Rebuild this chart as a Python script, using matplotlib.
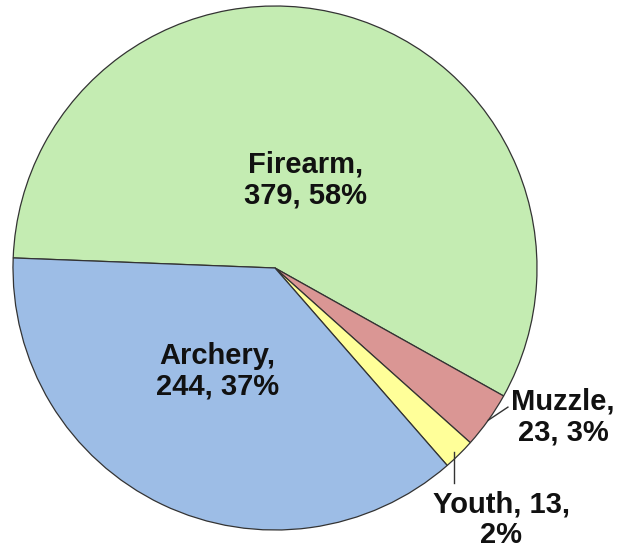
import numpy as np
import matplotlib.pyplot as plt

# data (clockwise from the left)
labels = ['Firearm', 'Muzzle', 'Youth', 'Archery']
counts = [379, 23, 13, 244]
colors = ['#C4ECB2', '#DA9694', '#FFFF99', '#9DBDE6']

total = sum(counts)
pcts = [round(100 * c / total) for c in counts]

fig = plt.figure(figsize=(6.31, 5.51), dpi=100)
ax = fig.add_axes([0, 0, 1, 1])

wedges, _ = ax.pie(counts, colors=colors, startangle=177.8, counterclock=False,
                   radius=1.0, wedgeprops=dict(edgecolor='#333333', linewidth=0.9))

# center at pixel (275, 268), radius 262 px
r = 262.0
ax.set_xlim(-275 / r, (631 - 275) / r)
ax.set_ylim(-(551 - 268) / r, 268 / r)
ax.set_aspect('auto')
ax.axis('off')

font = dict(family=['Liberation Sans', 'DejaVu Sans'], fontsize=21,
            fontweight='bold', ha='center', va='center', linespacing=1.1,
            color='#111111')

ax.text(0.115, 0.336, f'{labels[0]},\n{counts[0]}, {pcts[0]}%', **font)
ax.text(-0.221, -0.393, f'{labels[3]},\n{counts[3]}, {pcts[3]}%', **font)
ax.text(1.099, -0.569, f'{labels[1]},\n{counts[1]}, {pcts[1]}%', **font)
ax.text(0.863, -0.962, f'{labels[2]}, {counts[2]},\n{pcts[2]}%', **font)


def mid_point(w):
    a = np.deg2rad((w.theta1 + w.theta2) / 2)
    return np.cos(a), np.sin(a)


# leader lines
mx, my = mid_point(wedges[1])
ax.plot([mx, 0.889], [my, -0.531], color='#333333', lw=1)
yx, yy = mid_point(wedges[2])
ax.plot([yx - 0.02, yx - 0.02], [yy + 0.01, -0.82], color='#333333', lw=1)

fig.savefig('out.png', dpi=100)
